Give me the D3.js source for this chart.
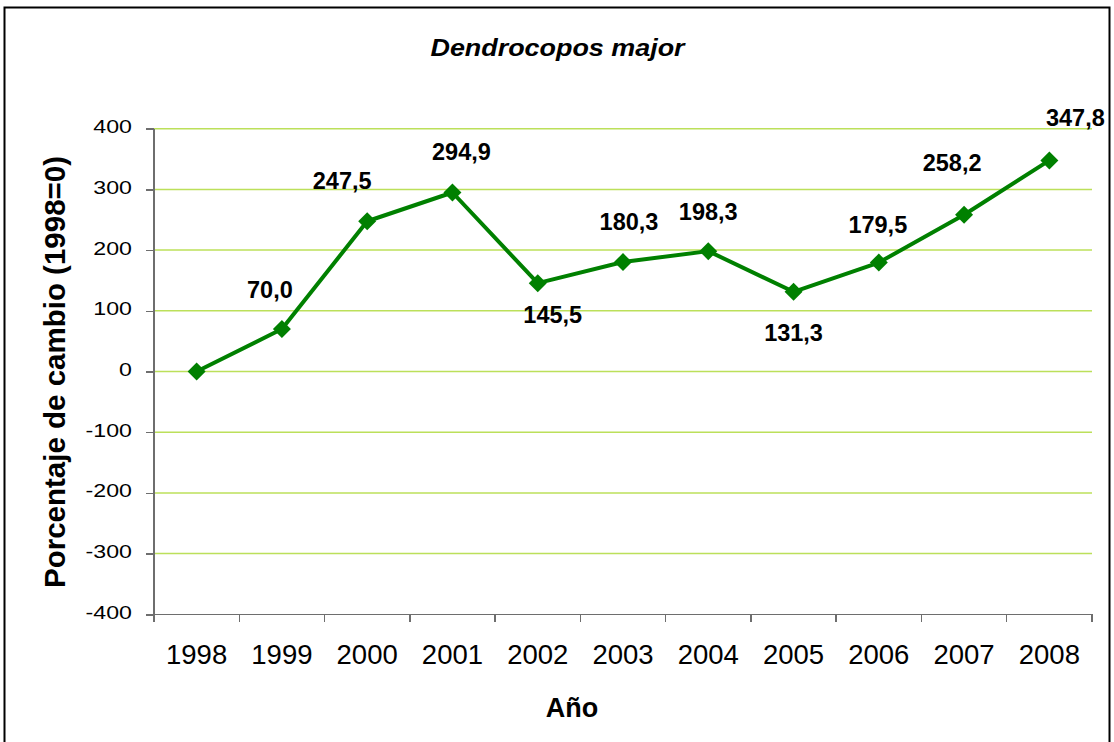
<!DOCTYPE html>
<html lang="es">
<head>
    <meta charset="UTF-8">
    <title>Dendrocopos major</title>
    <style>
        body {
            margin: 0;
            background: #fff;
            font-family: "Liberation Sans", Arial, sans-serif;
        }
        svg text {
            fill: #000;
        }
        .grid line {
            stroke: #bce05a;
            stroke-width: 1.5px;
        }
        .axis path, .axis line {
            stroke: #6e6e6e;
            stroke-width: 1.5px;
            shape-rendering: crispEdges;
        }
    </style>
    <script src="https://d3js.org/d3.v7.min.js"></script>
</head>
<body>
    <div id="chart"></div>

    <script>
        // Datos
        const years = ["1998", "1999", "2000", "2001", "2002", "2003", "2004", "2005", "2006", "2007", "2008"];
        const cambio = [0, 70.0, 247.5, 294.9, 145.5, 180.3, 198.3, 131.3, 179.5, 258.2, 347.8];
        const yTicks = [-400, -300, -200, -100, 0, 100, 200, 300, 400];

        // offsets de las etiquetas respecto al punto (dx, dy)
        const labelPos = {
            "1998": null,
            "1999": [-12, -31],
            "2000": [-25, -32],
            "2001": [9, -32],
            "2002": [15, 40],
            "2003": [6, -32],
            "2004": [0, -31],
            "2005": [0, 49],
            "2006": [-1, -30],
            "2007": [-12, -44],
            "2008": [26, -34]
        };

        const width = 1114;
        const height = 742;
        const plotLeft = 154, plotRight = 1092, plotTop = 128.7, plotBottom = 614.3;

        const svg = d3.select("#chart")
            .append("svg")
            .attr("width", width)
            .attr("height", height);

        // marco
        svg.append("rect")
            .attr("x", 4.5)
            .attr("y", 7.5)
            .attr("width", 1105)
            .attr("height", 760)
            .attr("fill", "none")
            .attr("stroke", "#000")
            .attr("stroke-width", 2);

        const x = d3.scaleBand().domain(years).range([plotLeft, plotRight]);
        const y = d3.scaleLinear().domain([-400, 400]).range([plotBottom, plotTop]);
        const cx = i => x(years[i]) + x.bandwidth() / 2;

        const es = d3.formatLocale({decimal: ",", thousands: ".", grouping: [3], currency: ["", ""]});
        const fmt = es.format(".1f");

        // lineas de cuadricula
        svg.append("g")
            .attr("class", "grid")
            .selectAll("line")
            .data(yTicks.filter(d => d > -400))
            .enter()
            .append("line")
            .attr("x1", plotLeft)
            .attr("x2", plotRight)
            .attr("y1", d => y(d))
            .attr("y2", d => y(d));

        // eje Y
        const yAxis = svg.append("g")
            .attr("class", "axis")
            .attr("transform", `translate(${plotLeft},0)`)
            .call(d3.axisLeft(y).tickValues(yTicks).tickSize(8).tickFormat(d => String(d)));
        yAxis.select(".domain").attr("d", `M0,${plotTop}V${plotBottom}`);
        yAxis.selectAll(".tick text")
            .attr("x", null)
            .attr("dy", null)
            .attr("text-anchor", "end")
            .style("font-size", "19px")
            .style("font-family", "Liberation Sans, Arial, sans-serif")
            .attr("transform", "translate(-22,4) scale(1.22,1)");

        // eje X
        const xAxis = svg.append("g")
            .attr("class", "axis")
            .attr("transform", `translate(0,${plotBottom})`);
        xAxis.append("line")
            .attr("x1", plotLeft - 8)
            .attr("x2", plotRight)
            .attr("y1", 0)
            .attr("y2", 0);
        xAxis.selectAll(".xtick")
            .data(d3.range(years.length + 1))
            .enter()
            .append("line")
            .attr("class", "xtick")
            .attr("x1", i => plotLeft + i * x.step())
            .attr("x2", i => plotLeft + i * x.step())
            .attr("y1", 0)
            .attr("y2", 8);
        xAxis.selectAll(".xlabel")
            .data(years)
            .enter()
            .append("text")
            .attr("class", "xlabel")
            .attr("x", d => x(d) + x.bandwidth() / 2)
            .attr("y", 50)
            .attr("text-anchor", "middle")
            .style("font-size", "27.5px")
            .text(d => d);

        // linea
        const line = d3.line()
            .x((d, i) => cx(i))
            .y(d => y(d));

        svg.append("path")
            .datum(cambio)
            .attr("d", line)
            .attr("fill", "none")
            .attr("stroke", "#008000")
            .attr("stroke-width", 4)
            .attr("stroke-linejoin", "round");

        // marcadores
        svg.selectAll(".marker")
            .data(cambio)
            .enter()
            .append("path")
            .attr("class", "marker")
            .attr("transform", (d, i) => `translate(${cx(i)},${y(d)})`)
            .attr("d", "M0,-9L9,0L0,9L-9,0Z")
            .attr("fill", "#008000");

        // etiquetas de datos
        const labIdx = d3.range(cambio.length).filter(i => labelPos[years[i]]);
        svg.selectAll(".dlabel")
            .data(labIdx)
            .enter()
            .append("text")
            .attr("class", "dlabel")
            .attr("x", i => cx(i) + labelPos[years[i]][0])
            .attr("y", i => y(cambio[i]) + labelPos[years[i]][1])
            .attr("text-anchor", "middle")
            .style("font-size", "23.5px")
            .style("font-weight", "bold")
            .text(i => fmt(cambio[i]));

        // titulo
        svg.append("text")
            .attr("transform", "translate(557.5,56) scale(1.17,1)")
            .attr("text-anchor", "middle")
            .style("font-size", "23px")
            .style("font-weight", "bold")
            .style("font-style", "italic")
            .text("Dendrocopos major");

        // titulos de ejes
        svg.append("text")
            .attr("transform", "translate(65,372) rotate(-90)")
            .attr("text-anchor", "middle")
            .style("font-size", "29.5px")
            .style("font-weight", "bold")
            .text("Porcentaje de cambio (1998=0)");

        svg.append("text")
            .attr("x", 572)
            .attr("y", 716.5)
            .attr("text-anchor", "middle")
            .style("font-size", "27px")
            .style("font-weight", "bold")
            .text("Año");
    </script>
</body>
</html>
